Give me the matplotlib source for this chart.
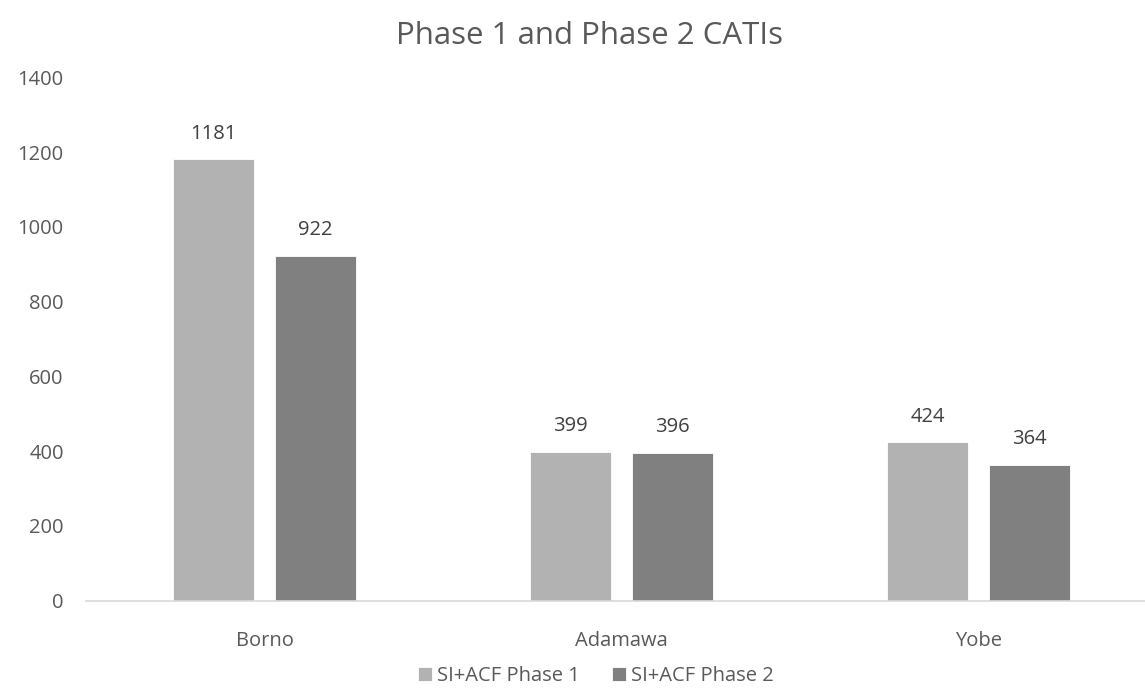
import matplotlib
matplotlib.use("Agg")
import matplotlib.pyplot as plt
import numpy as np

categories = ["Borno", "Adamawa", "Yobe"]
series_names = ["SI+ACF Phase 1", "SI+ACF Phase 2"]
phase1 = [1181, 399, 424]
phase2 = [922, 396, 364]
yticks = [0, 200, 400, 600, 800, 1000, 1200, 1400]

colors = ["#b2b2b2", "#808080"]
text_color = "#595959"

plt.rcParams['font.family'] = ['Open Sans', 'DejaVu Sans']

W, H = 1145, 695
fig = plt.figure(figsize=(W / 100, H / 100), dpi=100)
left = 86 / W
right = 1157 / W
bottom = 1 - 600.7 / H
top = 1 - 77.4 / H
ax = fig.add_axes([left, bottom, right - left, top - bottom])

x = np.arange(len(categories))
bw = 0.225
off = 0.1426
b1 = ax.bar(x - off, phase1, bw, color=colors[0], label=series_names[0],
            edgecolor="white", linewidth=0.6, zorder=2)
b2 = ax.bar(x + off, phase2, bw, color=colors[1], label=series_names[1],
            edgecolor="white", linewidth=0.6, zorder=2)

fs = 14.5
for bars in (b1, b2):
    for r in bars:
        ax.annotate(f"{int(r.get_height())}", (r.get_x() + r.get_width() / 2, r.get_height()),
                    xytext=(0, 18.5), textcoords="offset points", ha="center", va="center",
                    fontsize=fs, color="#404040")

ax.set_xlim(-0.5, 2.5)
ax.set_ylim(0, 1400)
ax.set_yticks(yticks)
ax.set_yticklabels([str(v) for v in yticks])
ax.set_xticks(x)
ax.set_xticklabels(categories)
ax.tick_params(axis='both', length=0, labelsize=fs, labelcolor=text_color)
ax.tick_params(axis='y', pad=16)
ax.tick_params(axis='x', pad=22)
for s in ["top", "right", "left"]:
    ax.spines[s].set_visible(False)
ax.spines["bottom"].set_color("#d9d9d9")
ax.spines["bottom"].set_linewidth(1.2)

fig.text(590 / W, 1 - 36 / H, "Phase 1 and Phase 2 CATIs",
         ha="center", va="center", fontsize=22.5, color=text_color)

fig.legend(handles=[b1, b2], labels=series_names, loc="center", bbox_to_anchor=(596 / W, 1 - 676 / H),
           ncol=2, frameon=False, fontsize=fs, labelcolor=text_color, handlelength=0.7,
           handleheight=0.7, handletextpad=0.25, columnspacing=1.6)

fig.savefig("out.png", dpi=100)
